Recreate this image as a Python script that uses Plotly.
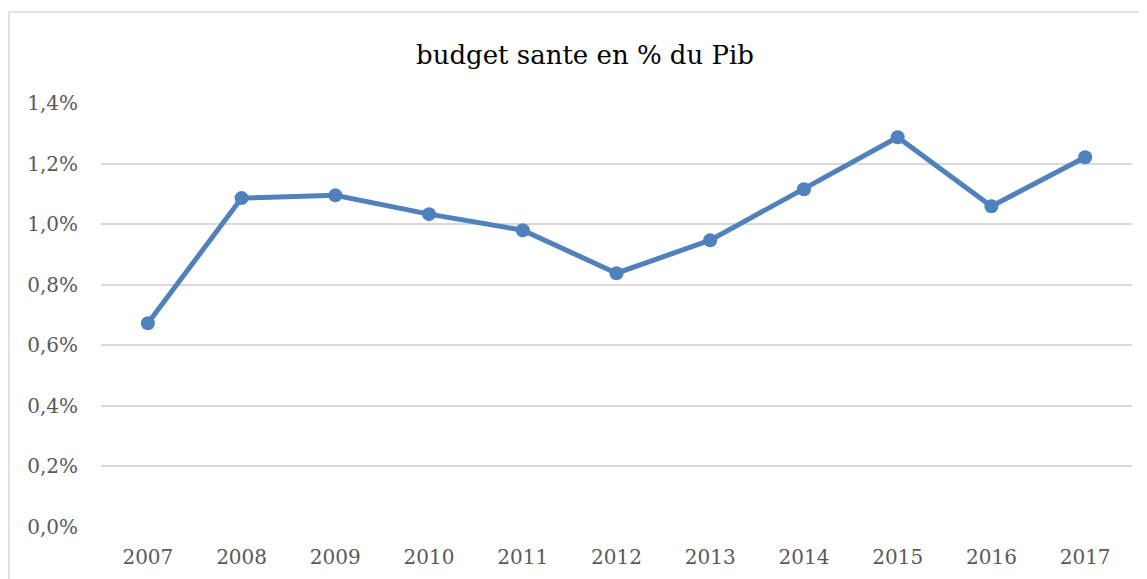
import plotly.graph_objects as go

years = ["2007", "2008", "2009", "2010", "2011", "2012", "2013", "2014", "2015", "2016", "2017"]
budget_pct = [0.673, 1.086, 1.095, 1.033, 0.980, 0.838, 0.947, 1.115, 1.287, 1.059, 1.221]
y_ticks = [0.0, 0.2, 0.4, 0.6, 0.8, 1.0, 1.2, 1.4]
y_ticktext = ["0,0%", "0,2%", "0,4%", "0,6%", "0,8%", "1,0%", "1,2%", "1,4%"]
title_text = "budget sante en % du Pib"

# page body has an 8px margin; figure is drawn from (8, 8)
OFF = 8
W, H = 1147 - OFF, 579 - OFF
L, T, B = 101 - OFF, 103 - OFF, 52
R = OFF + W - 1132
pw, ph = W - L - R, H - T - B

fig = go.Figure()
fig.add_trace(go.Scatter(
    x=years, y=budget_pct, mode="lines+markers",
    line=dict(color="#4f81bd", width=5),
    marker=dict(color="#4f81bd", size=14),
    cliponaxis=False,
))

font_family = "DejaVu Serif, serif"
fig.update_layout(
    width=W, height=H,
    margin=dict(l=L, r=R, t=T, b=B, autoexpand=False),
    paper_bgcolor="white", plot_bgcolor="white",
    showlegend=False,
    title=dict(text=title_text, x=(585 - OFF) / W, xanchor="center",
               y=1 - (55 - OFF) / H, yanchor="middle", yref="container",
               font=dict(family=font_family, size=26, color="#000000")),
    xaxis=dict(type="category", range=[-0.5, len(years) - 0.5],
               showgrid=False, showline=False, ticks="",
               tickfont=dict(family=font_family, size=20, color="#595959"),
               ticklabelstandoff=16, zeroline=False, automargin=False),
    yaxis=dict(range=[0, 1.4], tickvals=y_ticks, ticktext=y_ticktext,
               showgrid=True, gridcolor="#d9d9d9", gridwidth=1.5,
               zeroline=False, showline=False, ticks="", automargin=False,
               tickfont=dict(family=font_family, size=20, color="#595959"),
               ticklabelstandoff=22),
    shapes=[dict(type="rect", xref="paper", yref="paper",
                 x0=(9 - OFF - L) / pw, x1=(W + 5 - L) / pw,
                 y0=-(B + 10) / ph, y1=(H - B - (12 - OFF)) / ph,
                 line=dict(color="#d9d9d9", width=1.5), layer="below")],
)

fig.write_html("out.html")
